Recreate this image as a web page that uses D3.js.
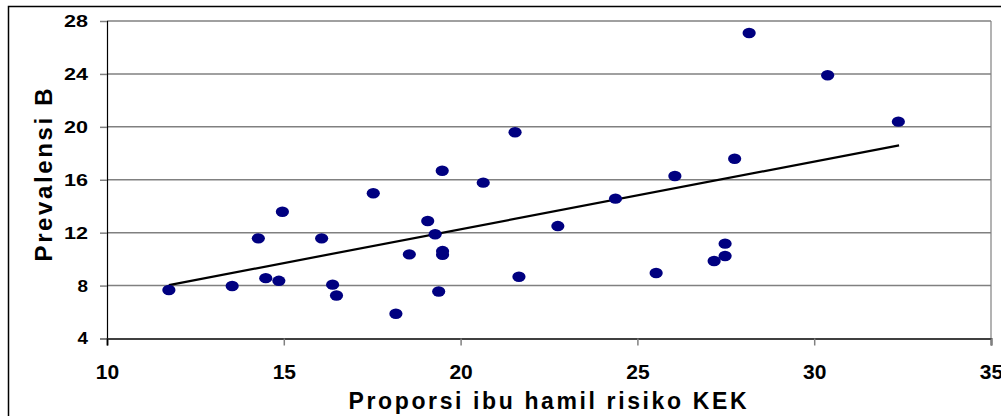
<!DOCTYPE html>
<html>
<head>
<meta charset="utf-8">
<script src="https://cdn.jsdelivr.net/npm/d3@7"></script>
<style>
  html, body { margin: 0; padding: 0; background: #fff; }
  svg { display: block; }
  text { font-family: "Liberation Sans", Arial, sans-serif; font-weight: bold; fill: #000; }
</style>
</head>
<body>
<svg id="chart" width="1001" height="416"></svg>
<script>
// Data
const xValues = [11.75, 13.54, 14.28, 14.49, 14.86, 14.96, 16.07, 16.38, 16.49, 17.53,
                 18.17, 18.55, 19.07, 19.28, 19.49, 19.49, 19.38, 21.65, 19.48, 20.64,
                 21.54, 22.75, 24.38, 26.06, 27.75, 25.53, 27.17, 27.48, 27.48, 28.16,
                 30.38, 32.38];
const yValues = [7.67, 7.97, 11.57, 8.56, 8.36, 13.58, 11.57, 8.07, 7.25, 14.98,
                 5.87, 10.36, 12.88, 11.88, 10.61, 10.33, 7.55, 8.67, 16.68, 15.78,
                 19.59, 12.50, 14.57, 16.28, 17.59, 8.95, 9.86, 10.24, 11.17, 27.09,
                 23.90, 20.39];
const trendX = [11.75, 32.4];
const trendY = [8.04, 18.6];
const xTicks = [10, 15, 20, 25, 30, 35];
const yTicks = [4, 8, 12, 16, 20, 24, 28];
const xTitle = "Proporsi ibu hamil risiko KEK";
const yTitle = "Prevalensi B";

const svg = d3.select("#chart");
const L = 107, R = 991, T = 21, B = 338.5;

const x = d3.scaleLinear().domain([10, 35]).range([L, R]);
const y = d3.scaleLinear().domain([4, 28]).range([B, T]);

// outer border
svg.append("rect").attr("x", 8.5).attr("y", 6.5).attr("width", 1010).attr("height", 420)
  .attr("fill", "none").attr("stroke", "#000").attr("stroke-width", 1.5);

// gridlines
svg.append("g").selectAll("line").data(yTicks.filter(d => d !== 4)).join("line")
  .attr("x1", L).attr("x2", R)
  .attr("y1", d => y(d)).attr("y2", d => y(d))
  .attr("stroke", "#808080").attr("stroke-width", 1.5);

// right border of plot
svg.append("line").attr("x1", R).attr("x2", R).attr("y1", T).attr("y2", B)
  .attr("stroke", "#808080").attr("stroke-width", 1.2);

// Y axis
const yAxis = svg.append("g").attr("transform", `translate(${L},0)`)
  .call(d3.axisLeft(y).tickValues(yTicks).tickSize(7).tickPadding(12).tickFormat(d3.format("d")));
yAxis.select(".domain").attr("stroke", "#000").attr("stroke-width", 1.2);
yAxis.selectAll(".tick line").attr("stroke", "#808080").attr("stroke-width", 1.5);
yAxis.selectAll(".tick text")
  .style("font-size", "17px")
  .attr("textLength", d => String(d).length === 1 ? 10.5 : 24)
  .attr("lengthAdjust", "spacingAndGlyphs");

// X axis
const xAxis = svg.append("g").attr("transform", `translate(0,${B})`)
  .call(d3.axisBottom(x).tickValues(xTicks).tickSize(7).tickPadding(0).tickFormat(d3.format("d")));
xAxis.select(".domain").attr("stroke", "#404040").attr("stroke-width", 2);
xAxis.selectAll(".tick line").attr("stroke", "#808080").attr("stroke-width", 1.5);
xAxis.selectAll(".tick").filter(d => d === 10).select("line").attr("stroke", "#000").attr("stroke-width", 1.2);
xAxis.selectAll(".tick text")
  .style("font-size", "21px")
  .attr("y", 40).attr("dy", 0);

// trend line
const pts = trendX.map((d, i) => [d, trendY[i]]);
svg.append("path")
  .attr("d", d3.line().x(d => x(d[0])).y(d => y(d[1]))(pts))
  .attr("fill", "none").attr("stroke", "#000").attr("stroke-width", 2.2);

// points
svg.append("g").selectAll("ellipse").data(xValues.map((d, i) => [d, yValues[i]])).join("ellipse")
  .attr("cx", d => x(d[0])).attr("cy", d => y(d[1]))
  .attr("rx", 6.6).attr("ry", 5.2)
  .attr("fill", "#000080");

// axis titles
svg.append("text")
  .attr("x", 547.5).attr("y", 408.5)
  .attr("text-anchor", "middle")
  .style("font-size", "23px")
  .attr("textLength", 398).attr("lengthAdjust", "spacing")
  .text(xTitle);

svg.append("text")
  .attr("transform", "translate(51.5,175) rotate(-90)")
  .attr("text-anchor", "middle")
  .style("font-size", "24px")
  .attr("textLength", 173).attr("lengthAdjust", "spacing")
  .text(yTitle);
</script>
</body>
</html>
